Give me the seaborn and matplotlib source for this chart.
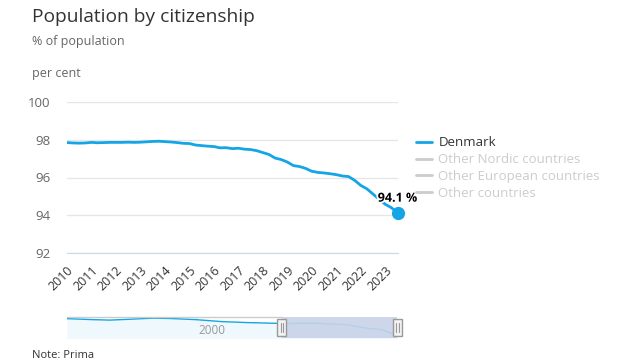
import numpy as np
import pandas as pd
import matplotlib
matplotlib.use("Agg")
import matplotlib.pyplot as plt
import matplotlib.patheffects as pe
import matplotlib.transforms as mtransforms
from matplotlib.lines import Line2D
from matplotlib.patches import Rectangle
import seaborn as sns

# --- data (quarterly, 2010 Q1 .. 2023 Q3) ---
quarters = [2010 + 0.25 * i for i in range(55)]
denmark = [
    97.85, 97.83, 97.82, 97.83, 97.86, 97.84, 97.85, 97.86,
    97.86, 97.86, 97.87, 97.86, 97.87, 97.89, 97.91, 97.92,
    97.90, 97.88, 97.85, 97.81, 97.80, 97.72, 97.69, 97.66,
    97.64, 97.57, 97.58, 97.53, 97.55, 97.50, 97.48, 97.42,
    97.32, 97.22, 97.03, 96.95, 96.82, 96.63, 96.58, 96.48,
    96.33, 96.27, 96.24, 96.20, 96.15, 96.08, 96.05, 95.85,
    95.58, 95.40, 95.12, 94.85, 94.58, 94.40, 94.12,
]
# earlier part of the series, only visible in the navigator
early_years = [1985, 1988, 1990, 1993, 1995, 1997, 2000, 2003, 2006, 2009]
early_values = [99.3, 99.0, 98.85, 99.2, 99.45, 99.35, 99.0, 98.4, 98.1, 97.9]

legend_labels = ["Denmark", "Other Nordic countries", "Other European countries", "Other countries"]
year_ticks = list(range(2010, 2024))
y_ticks = [92, 94, 96, 98, 100]

BLUE = "#14a5e6"
W, H = 633, 360

df = pd.DataFrame({"year": quarters, "share": denmark})
nav = pd.DataFrame({"year": early_years + quarters, "share": early_values + denmark})

sns.set_style("white")
plt.rcParams["font.family"] = ["Open Sans", "DejaVu Sans"]

fig = plt.figure(figsize=(W / 100, H / 100), dpi=100)


def box(x0, y0, x1, y1):
    # pixel box (top-left origin) -> figure fraction rect
    return [x0 / W, 1 - y1 / H, (x1 - x0) / W, (y1 - y0) / H]


def ftext(x, y, s, **kw):
    fig.text(x / W, 1 - y / H, s, **kw)


# --- main chart ---
ax = fig.add_axes(box(67, 102, 397.5, 253))
sns.lineplot(data=df, x="year", y="share", ax=ax, color=BLUE, linewidth=2)
ax.set_xlim(2010, 2023.5)
ax.set_ylim(92, 100)
ax.set_yticks(y_ticks)
ax.set_xticks(year_ticks)
ax.set_xticklabels([str(y) for y in year_ticks], rotation=45, ha="right",
                   rotation_mode="anchor", fontsize=9, color="#333333")
ax.set_yticklabels([str(v) for v in y_ticks], fontsize=9.5, color="#666666")
ax.tick_params(axis="y", length=0, pad=12)
ax.tick_params(axis="x", length=5, color="#ccd6eb", pad=3, direction="out")
ax.grid(axis="y", color="#e6e6e6", linewidth=1)
ax.grid(axis="x", visible=False)
for s in ["top", "right", "left"]:
    ax.spines[s].set_visible(False)
ax.spines["bottom"].set_color("#ccd6eb")
ax.set_xlabel("")
ax.set_ylabel("")

# last point marker + label
ax.plot(quarters[-1], denmark[-1], "o", color=BLUE, markersize=8.5, clip_on=False, zorder=5)
ax.annotate(f"{denmark[-1]:.1f} %", (quarters[-1], denmark[-1]), xytext=(0, 6),
            textcoords="offset points", ha="center", va="bottom", fontsize=9,
            fontweight="bold", color="#000000", annotation_clip=False,
            path_effects=[pe.withStroke(linewidth=2.5, foreground="white")])

# legend
handles = [Line2D([], [], color=BLUE, linewidth=2)] + \
          [Line2D([], [], color="#cccccc", linewidth=2) for _ in range(3)]
leg = fig.legend(handles, legend_labels, loc="upper left",
                 bbox_to_anchor=(416 / W, 1 - 136.5 / H), frameon=False, fontsize=9.5,
                 handlelength=1.25, handletextpad=0.45, labelspacing=0.28,
                 borderaxespad=0, borderpad=0)
for i, t in enumerate(leg.get_texts()):
    t.set_color("#333333" if i == 0 else "#cccccc")

# --- titles ---
ftext(32, 22.5, "Population by citizenship", fontsize=13.8, color="#333333", va="baseline")
ftext(32, 45, "% of population", fontsize=9, color="#666666", va="baseline")
ftext(32, 76.5, "per cent", fontsize=9, color="#666666", va="baseline")
ftext(32, 358.5, "Note: Prima", fontsize=8, color="#333333", va="baseline")

# --- navigator ---
nax = fig.add_axes(box(67, 317, 397.5, 338))
nax.fill_between(nav["year"], nav["share"], 90, color="#eef8fd", linewidth=0)
sns.lineplot(data=nav, x="year", y="share", ax=nax, color=BLUE, linewidth=1)
nax.set_xlim(1985, 2023.5)
nax.set_ylim(93.4, 99.8)
nax.axis("off")
nax.axvline(2000, color="#e6e6e6", linewidth=1, zorder=0)
nax.text(2000.3, 0.2, "2000", transform=mtransforms.blended_transform_factory(nax.transData, nax.transAxes),
         fontsize=8.5, color="#999999", va="baseline", ha="left")
nax.axvspan(2010, 2023.5, color="#c9d3e8", alpha=0.9, linewidth=0, zorder=3)
nax.plot([1985, 2010], [99.8, 99.8], color="#cccccc", linewidth=1, clip_on=False)

trans = mtransforms.blended_transform_factory(nax.transData, nax.transAxes)
hw = 8.5 * 38.5 / 330.5
for hx in [2010, 2023.5]:
    nax.add_patch(Rectangle((hx - hw / 2, 0.1), hw, 0.8, transform=trans,
                            facecolor="#f2f2f2", edgecolor="#999999", linewidth=1,
                            clip_on=False, zorder=6))
    for dx in (-0.12, 0.12):
        nax.plot([hx + dx, hx + dx], [0.3, 0.7], transform=trans, color="#999999",
                 linewidth=0.8, clip_on=False, zorder=7)

fig.savefig("out.png", dpi=100)
